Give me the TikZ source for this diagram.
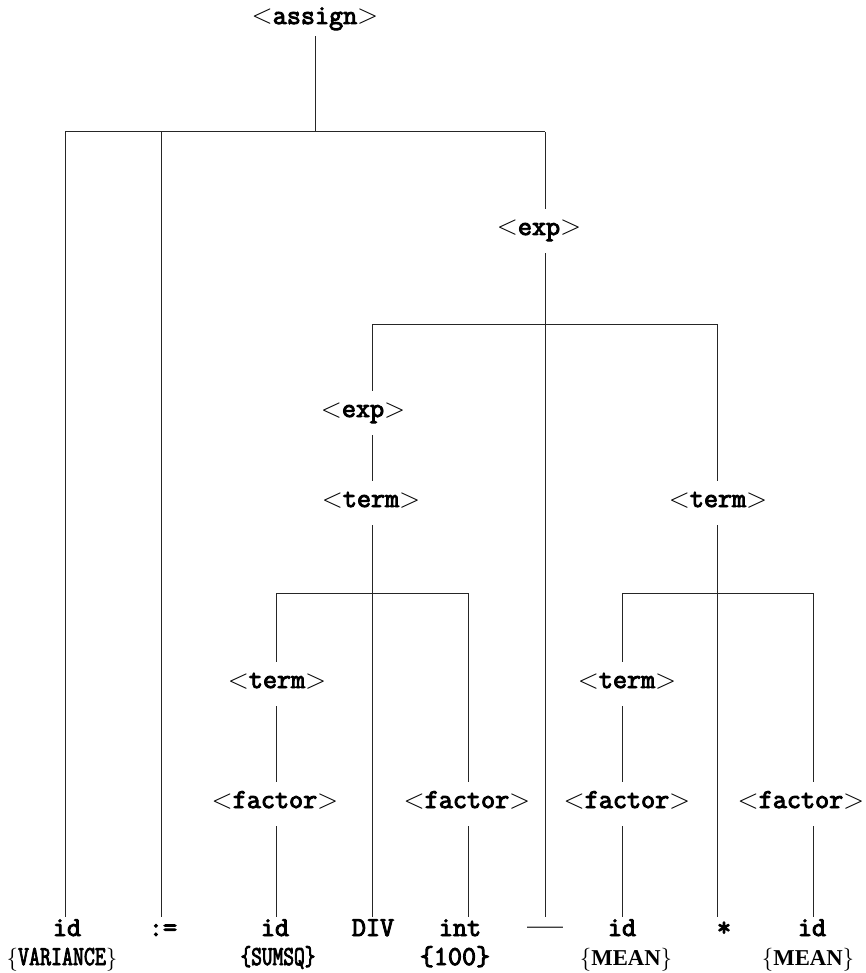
\documentclass[tikz,border=0pt]{standalone}
\usepackage{fontspec}
\usepackage{graphicx}
\setmonofont{Latin Modern Mono}[BoldFont={Latin Modern Mono},BoldFeatures={FakeBold=3.5}]
\newfontfamily\valuefont{Liberation Serif}
\usetikzlibrary{calc}

% nonterminal label: <name>
\newcommand{\nterm}[1]{$<$\texttt{\bfseries #1}$>$}

\begin{document}
\begin{tikzpicture}[x=0.75pt,y=-0.75pt,
  branch/.style={draw=black!85,line width=0.75pt},
  inner/.style={anchor=base,inner sep=0pt,text height=19.5pt,text depth=13.5pt,
    font=\fontsize{20.5}{24}\selectfont},
  leaf/.style={anchor=base,inner sep=0pt,text height=14.25pt,text depth=0pt,
    font=\fontsize{20.5}{24}\selectfont\ttfamily\bfseries},
  value/.style={anchor=base,inner sep=0pt,font=\fontsize{17}{20}\selectfont}]
\useasboundingbox (0,0) rectangle (865,973);

% nonterminals
\node[inner,text depth=9pt] (assign) at (315,24) {\nterm{assign}};
\node[inner] (exp)   at (539,235) {\nterm{exp}};
\node[inner] (expb)  at (363,417) {\nterm{exp}};
\node[inner] (termb) at (371,507) {\nterm{term}};
\node[inner] (termc) at (718,507) {\nterm{term}};
\node[inner] (termd) at (277,688) {\nterm{term}};
\node[inner] (terme) at (627,688) {\nterm{term}};
\node[inner] (factd) at (275,808) {\nterm{factor}};
\node[inner] (factf) at (467,808) {\nterm{factor}};
\node[inner] (facte) at (627,808) {\nterm{factor}};
\node[inner] (factc) at (801,808) {\nterm{factor}};

% tokens
\node[leaf] (id1)      at (67,936)  {id};
\node[leaf] (assignop) at (163,936) {:=};
\node[leaf] (id2)      at (275,936) {id};
\node[leaf] (div)      at (373,936) {DIV};
\node[leaf] (int)      at (460,936) {int};
\node[leaf,font=\fontsize{24}{26}\selectfont\bfseries] (minus) at (545,936) {\textemdash};
\node[leaf] (id3)      at (622,936) {id};
\node[leaf] (times)    at (724,936) {*};
\node[leaf] (id4)      at (812,936) {id};

% token values
\node[value] (var)     at (62,965)  {$\{$\scalebox{0.78}[1]{\fontsize{20.5}{24}\selectfont\ttfamily\bfseries VARIANCE}$\}$};
\node[value] (sumsq)   at (278,965) {\scalebox{0.76}[1]{\fontsize{20.5}{24}\selectfont\ttfamily\bfseries\{SUMSQ\}}};
\node[value,font=\fontsize{20.5}{24}\selectfont\ttfamily\bfseries] (hundred) at (455,965) {\{100\}};
\node[value] (mean1)   at (626,965) {$\{$\valuefont\bfseries MEAN$\}$};
\node[value] (mean2)   at (808,965) {$\{$\valuefont\bfseries MEAN$\}$};

% branch points
\coordinate (b1a) at (65,132);
\coordinate (b1b) at (161,132);
\coordinate (b1c) at (315,132);
\coordinate (b1d) at (545,132);
\coordinate (b2a) at (372,324);
\coordinate (b2c) at (717,324);
\coordinate (b3a) at (276,593);
\coordinate (b3c) at (468,593);
\coordinate (b4a) at (622,593);
\coordinate (b4c) at (813,593);

% <assign>
\draw[branch] (assign.south) -- (b1c);
\draw[branch] (b1a) -- (b1d);
\draw[branch] (b1a) -- (id1.north -| b1a);
\draw[branch] (b1b) -- (assignop.north -| b1b);
\draw[branch] (b1d) -- (exp.north -| b1d);

% <exp>
\draw[branch] (exp.south -| b1d) -- (minus.north -| b1d);
\draw[branch] (b2a) -- (b2c);
\draw[branch] (b2a) -- (expb.north -| b2a);
\draw[branch] (expb.south -| b2a) -- (termb.north -| b2a);
\draw[branch] (b2c) -- (termc.north -| b2c);

% left <term>
\draw[branch] (termb.south -| b2a) -- (div.north -| b2a);
\draw[branch] (b3a) -- (b3c);
\draw[branch] (b3a) -- (termd.north -| b3a);
\draw[branch] (termd.south -| b3a) -- (factd.north -| b3a);
\draw[branch] (factd.south -| b3a) -- (id2.north -| b3a);
\draw[branch] (b3c) -- (factf.north -| b3c);
\draw[branch] (factf.south -| b3c) -- (int.north -| b3c);

% right <term>
\draw[branch] (termc.south -| b2c) -- (times.north -| b2c);
\draw[branch] (b4a) -- (b4c);
\draw[branch] (b4a) -- (terme.north -| b4a);
\draw[branch] (terme.south -| b4a) -- (facte.north -| b4a);
\draw[branch] (facte.south -| b4a) -- (id3.north -| b4a);
\draw[branch] (b4c) -- (factc.north -| b4c);
\draw[branch] (factc.south -| b4c) -- (id4.north -| b4c);
\end{tikzpicture}
\end{document}
